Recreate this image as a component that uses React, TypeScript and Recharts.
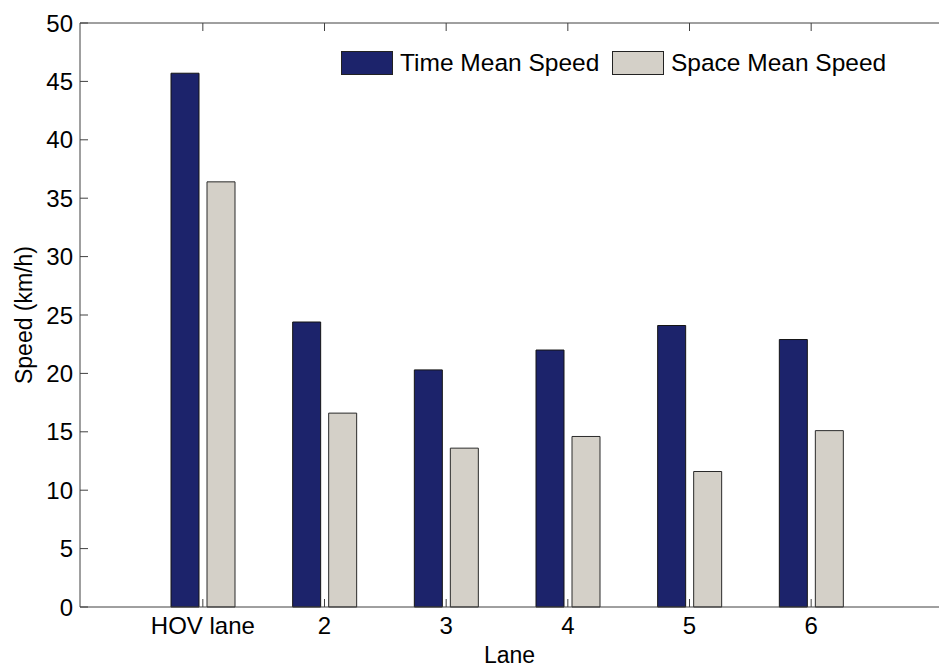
import { BarChart, Bar, XAxis, YAxis, Legend } from "recharts";

const lanes = ["HOV lane", "2", "3", "4", "5", "6"];
const timeMeanSpeed = [45.7, 24.4, 20.3, 22.0, 24.1, 22.9];
const spaceMeanSpeed = [36.4, 16.6, 13.6, 14.6, 11.6, 15.1];
const yTicks = [0, 5, 10, 15, 20, 25, 30, 35, 40, 45, 50];

const chartData = lanes.map((lane, i) => ({
  lane,
  tms: timeMeanSpeed[i],
  sms: spaceMeanSpeed[i],
}));

const FONT = '"Liberation Sans", Arial, Helvetica, sans-serif';
const AXIS = "#404040";
const BLUE = "#1c236b";
const GRAY = "#d4d0c8";

function LegendBox() {
  const items = [
    { label: "Time Mean Speed", color: BLUE, w: 271 },
    { label: "Space Mean Speed", color: GRAY, w: 290 },
  ];
  return (
    <div style={{ display: "flex", alignItems: "center", fontFamily: FONT, fontSize: 24.5, color: "#000" }}>
      {items.map((it) => (
        <div key={it.label} style={{ display: "flex", alignItems: "center", width: it.w }}>
          <span
            style={{
              display: "inline-block",
              width: 50,
              height: 22,
              background: it.color,
              border: "1px solid #222",
              marginRight: 7,
            }}
          />
          <span style={{ whiteSpace: "nowrap", lineHeight: "24px" }}>{it.label}</span>
        </div>
      ))}
    </div>
  );
}

export default function App() {
  return (
    <div style={{ position: "absolute", left: 0, top: 0, width: 939, height: 667, background: "#fff" }}>
      <BarChart
        width={939}
        height={667}
        data={chartData}
        margin={{ top: 3, right: 0, bottom: 0, left: 0 }}
        barSize={28}
        barGap={8}
      >
        <XAxis
          xAxisId="top"
          orientation="top"
          dataKey="lane"
          height={20}
          padding={{ left: 62, right: 67 }}
          stroke={AXIS}
          tickSize={-8}
          tickFormatter={() => ""}
        />
        <XAxis
          xAxisId="bottom"
          dataKey="lane"
          height={60}
          padding={{ left: 62, right: 67 }}
          stroke={AXIS}
          tickSize={-8}
          tickMargin={18}
          tick={{ fill: "#000", fontSize: 24, fontFamily: FONT }}
          label={{
            value: "Lane",
            position: "insideBottom",
            offset: 4,
            fill: "#000",
            fontSize: 23,
            fontFamily: FONT,
          }}
        />
        <YAxis
          domain={[0, 50]}
          ticks={yTicks}
          width={80}
          stroke={AXIS}
          tickSize={-8}
          tickMargin={15}
          interval={0}
          tick={{ fill: "#000", fontSize: 24, fontFamily: FONT }}
          label={{
            value: "Speed (km/h)",
            angle: -90,
            position: "insideLeft",
            offset: 24,
            fill: "#000",
            fontSize: 23,
            fontFamily: FONT,
            style: { textAnchor: "middle" },
          }}
        />
        <Legend
          layout="vertical"
          align="center"
          verticalAlign="middle"
          content={() => <LegendBox />}
          wrapperStyle={{ top: 51, left: 341, width: 570, height: 26 }}
        />
        <Bar
          xAxisId="bottom"
          dataKey="tms"
          name="Time Mean Speed"
          fill={BLUE}
          stroke="#151515"
          strokeWidth={1}
          isAnimationActive={false}
        />
        <Bar
          xAxisId="bottom"
          dataKey="sms"
          name="Space Mean Speed"
          fill={GRAY}
          stroke="#2a2a2a"
          strokeWidth={1}
          isAnimationActive={false}
        />
      </BarChart>
    </div>
  );
}
